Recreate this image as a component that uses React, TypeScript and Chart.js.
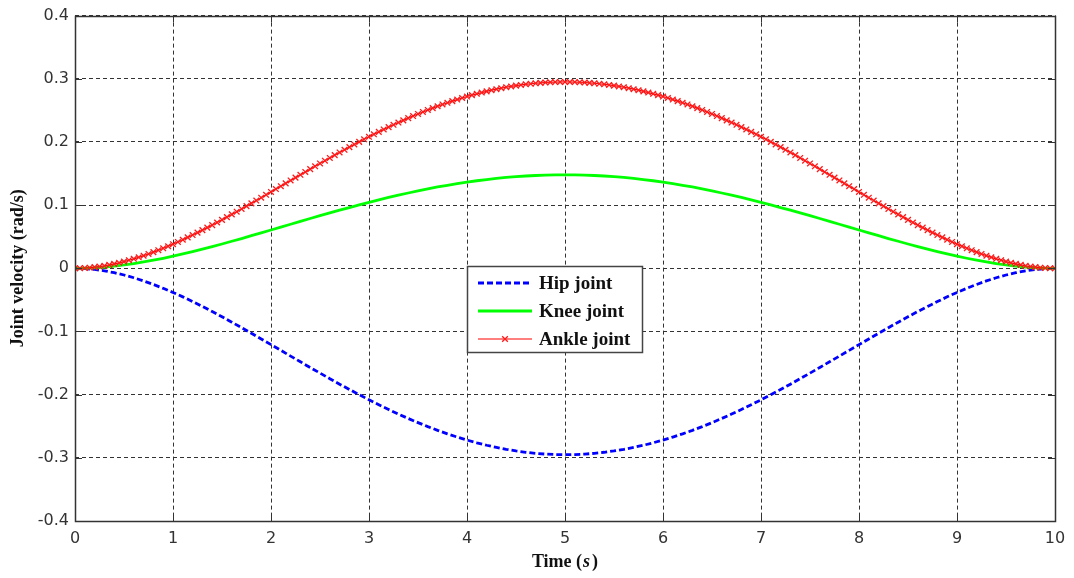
import React, { useEffect, useRef } from "react";
import { Chart, registerables } from "chart.js";

Chart.register(...registerables);

// Time grids (s)
const TIME_COARSE: number[] = Array.from({ length: 101 }, (_, i) => Math.round(i * 10) / 100);
const TIME_FINE: number[] = Array.from({ length: 201 }, (_, i) => Math.round(i * 5) / 100);

const X_TICKS = [0, 1, 2, 3, 4, 5, 6, 7, 8, 9, 10];
const Y_TICKS = [-0.4, -0.3, -0.2, -0.1, 0, 0.1, 0.2, 0.3, 0.4];

const SERIES_NAMES = ["Hip joint", "Knee joint", "Ankle joint"];

// Hip joint velocity (rad/s), sampled every 0.1 s
const HIP: number[] = [
  0, -0.0005, -0.0018, -0.004, -0.007, -0.0106, -0.015, -0.02, -0.0256, -0.0317,
  -0.0382, -0.0452, -0.0526, -0.0604, -0.0684, -0.0767, -0.0853, -0.094, -0.1028, -0.1118,
  -0.1208, -0.1299, -0.139, -0.148, -0.157, -0.1659, -0.1747, -0.1834, -0.1918, -0.2001,
  -0.2082, -0.216, -0.2235, -0.2307, -0.2377, -0.2443, -0.2506, -0.2565, -0.262, -0.2671,
  -0.2719, -0.2762, -0.2801, -0.2835, -0.2866, -0.2891, -0.2912, -0.2929, -0.2941, -0.2948,
  -0.295,
  -0.2948, -0.2941, -0.2929, -0.2912, -0.2891, -0.2866, -0.2835, -0.2801, -0.2762, -0.2719,
  -0.2671, -0.262, -0.2565, -0.2506, -0.2443, -0.2377, -0.2307, -0.2235, -0.216, -0.2082,
  -0.2001, -0.1918, -0.1834, -0.1747, -0.1659, -0.157, -0.148, -0.139, -0.1299, -0.1208,
  -0.1118, -0.1028, -0.094, -0.0853, -0.0767, -0.0684, -0.0604, -0.0526, -0.0452, -0.0382,
  -0.0317, -0.0256, -0.02, -0.015, -0.0106, -0.007, -0.004, -0.0018, -0.0005, 0,
];

// Knee joint velocity (rad/s), sampled every 0.1 s
const KNEE: number[] = [
  0, 0.0002, 0.0009, 0.002, 0.0035, 0.0053, 0.0075, 0.01, 0.0128, 0.0159,
  0.0192, 0.0227, 0.0264, 0.0303, 0.0343, 0.0385, 0.0428, 0.0471, 0.0516, 0.0561,
  0.0606, 0.0652, 0.0697, 0.0743, 0.0788, 0.0833, 0.0877, 0.092, 0.0962, 0.1004,
  0.1044, 0.1083, 0.1121, 0.1158, 0.1192, 0.1226, 0.1257, 0.1287, 0.1314, 0.134,
  0.1364, 0.1386, 0.1405, 0.1423, 0.1438, 0.1451, 0.1461, 0.1469, 0.1475, 0.1479,
  0.148,
  0.1479, 0.1475, 0.1469, 0.1461, 0.1451, 0.1438, 0.1423, 0.1405, 0.1386, 0.1364,
  0.134, 0.1314, 0.1287, 0.1257, 0.1226, 0.1192, 0.1158, 0.1121, 0.1083, 0.1044,
  0.1004, 0.0962, 0.092, 0.0877, 0.0833, 0.0788, 0.0743, 0.0697, 0.0652, 0.0606,
  0.0561, 0.0516, 0.0471, 0.0428, 0.0385, 0.0343, 0.0303, 0.0264, 0.0227, 0.0192,
  0.0159, 0.0128, 0.01, 0.0075, 0.0053, 0.0035, 0.002, 0.0009, 0.0002, 0,
];

// Ankle joint velocity (rad/s), sampled every 0.05 s
const ANKLE: number[] = [
  0, 0.0001, 0.0005, 0.001, 0.0018, 0.0028, 0.004, 0.0054, 0.007, 0.0087,
  0.0106, 0.0128, 0.015, 0.0174, 0.02, 0.0227, 0.0256, 0.0286, 0.0317, 0.0349,
  0.0382, 0.0417, 0.0452, 0.0489, 0.0526, 0.0565, 0.0604, 0.0644, 0.0684, 0.0725,
  0.0767, 0.081, 0.0853, 0.0896, 0.094, 0.0984, 0.1028, 0.1073, 0.1118, 0.1163,
  0.1208, 0.1254, 0.1299, 0.1344, 0.139, 0.1435, 0.148, 0.1525, 0.157, 0.1615,
  0.1659, 0.1703, 0.1747, 0.1791, 0.1834, 0.1876, 0.1918, 0.196, 0.2001, 0.2042,
  0.2082, 0.2121, 0.216, 0.2198, 0.2235, 0.2272, 0.2307, 0.2342, 0.2377, 0.241,
  0.2443, 0.2475, 0.2506, 0.2536, 0.2565, 0.2593, 0.262, 0.2646, 0.2671, 0.2696,
  0.2719, 0.2741, 0.2762, 0.2782, 0.2801, 0.2819, 0.2835, 0.2851, 0.2866, 0.2879,
  0.2891, 0.2902, 0.2912, 0.2921, 0.2929, 0.2935, 0.2941, 0.2945, 0.2948, 0.2949,
  0.295,
  0.2949, 0.2948, 0.2945, 0.2941, 0.2935, 0.2929, 0.2921, 0.2912, 0.2902, 0.2891,
  0.2879, 0.2866, 0.2851, 0.2835, 0.2819, 0.2801, 0.2782, 0.2762, 0.2741, 0.2719,
  0.2696, 0.2671, 0.2646, 0.262, 0.2593, 0.2565, 0.2536, 0.2506, 0.2475, 0.2443,
  0.241, 0.2377, 0.2342, 0.2307, 0.2272, 0.2235, 0.2198, 0.216, 0.2121, 0.2082,
  0.2042, 0.2001, 0.196, 0.1918, 0.1876, 0.1834, 0.1791, 0.1747, 0.1703, 0.1659,
  0.1615, 0.157, 0.1525, 0.148, 0.1435, 0.139, 0.1344, 0.1299, 0.1254, 0.1208,
  0.1163, 0.1118, 0.1073, 0.1028, 0.0984, 0.094, 0.0896, 0.0853, 0.081, 0.0767,
  0.0725, 0.0684, 0.0644, 0.0604, 0.0565, 0.0526, 0.0489, 0.0452, 0.0417, 0.0382,
  0.0349, 0.0317, 0.0286, 0.0256, 0.0227, 0.02, 0.0174, 0.015, 0.0128, 0.0106,
  0.0087, 0.007, 0.0054, 0.004, 0.0028, 0.0018, 0.001, 0.0005, 0.0001, 0,
];

const X_TITLE = ["Time (", "s", ")"];
const Y_TITLE = "Joint velocity (rad/s)";

const TITLE_FONT = '"Liberation Serif", "Times New Roman", serif';
const TICK_FONT = '"DejaVu Sans", sans-serif';

const framePlugin = {
  id: "matlabFrame",
  afterDatasetsDraw(chart: any) {
    const { ctx, chartArea: a, scales } = chart;
    ctx.save();
    ctx.setLineDash([]);
    ctx.strokeStyle = "#333";
    ctx.lineWidth = 1;
    ctx.beginPath();
    scales.x.ticks.forEach((t: any) => {
      const px = Math.round(scales.x.getPixelForValue(t.value)) + 0.5;
      ctx.moveTo(px, a.bottom);
      ctx.lineTo(px, a.bottom - 7);
      ctx.moveTo(px, a.top);
      ctx.lineTo(px, a.top + 7);
    });
    scales.y.ticks.forEach((t: any) => {
      const py = Math.round(scales.y.getPixelForValue(t.value)) + 0.5;
      ctx.moveTo(a.left, py);
      ctx.lineTo(a.left + 7, py);
      ctx.moveTo(a.right, py);
      ctx.lineTo(a.right - 7, py);
    });
    ctx.stroke();
    ctx.lineWidth = 1.5;
    ctx.strokeRect(Math.round(a.left) + 0.5, Math.round(a.top) + 0.5, Math.round(a.right - a.left), Math.round(a.bottom - a.top));
    ctx.restore();
  },
  afterDraw(chart: any) {
    const { ctx, chartArea: a } = chart;
    ctx.save();
    // Axis titles
    ctx.fillStyle = "#111";
    ctx.textBaseline = "middle";
    const boldF = `bold 18px ${TITLE_FONT}`;
    const italF = `italic bold 18px ${TITLE_FONT}`;
    ctx.font = boldF;
    const w0 = ctx.measureText(X_TITLE[0]).width + 1;
    const w2 = ctx.measureText(X_TITLE[2]).width;
    ctx.font = italF;
    const w1 = ctx.measureText(X_TITLE[1]).width + 2;
    const total = w0 + w1 + w2;
    let xx = (a.left + a.right) / 2 - total / 2;
    const ty = 562;
    ctx.textAlign = "left";
    ctx.font = boldF;
    ctx.fillText(X_TITLE[0], xx, ty);
    xx += w0;
    ctx.font = italF;
    ctx.fillText(X_TITLE[1], xx, ty);
    xx += w1;
    ctx.font = boldF;
    ctx.fillText(X_TITLE[2], xx, ty);

    ctx.save();
    ctx.translate(18, (a.top + a.bottom) / 2);
    ctx.rotate(-Math.PI / 2);
    ctx.textAlign = "center";
    ctx.font = boldF;
    ctx.fillText(Y_TITLE, 0, 0);
    ctx.restore();

    // Legend box
    const bx = 467.5, by = 266.5, bw = 175, bh = 86;
    ctx.fillStyle = "#fff";
    ctx.fillRect(bx, by, bw, bh);
    ctx.strokeStyle = "#444";
    ctx.lineWidth = 1.5;
    ctx.setLineDash([]);
    ctx.strokeRect(bx, by, bw, bh);
    const rows = [283, 311, 339];
    const lx0 = 478, lx1 = 532;
    chart.data.datasets.forEach((ds: any, i: number) => {
      const y = rows[i];
      ctx.save();
      ctx.strokeStyle = ds.borderColor;
      ctx.lineWidth = ds.borderWidth;
      ctx.setLineDash(ds.borderDash || []);
      ctx.beginPath();
      ctx.moveTo(lx0, y);
      ctx.lineTo(lx1, y);
      ctx.stroke();
      ctx.restore();
      if (ds.pointRadius > 0) {
        const cx = (lx0 + lx1) / 2;
        const r = ds.pointRadius * Math.cos(Math.PI / 4);
        ctx.save();
        ctx.strokeStyle = ds.pointBorderColor;
        ctx.lineWidth = ds.pointBorderWidth;
        ctx.beginPath();
        ctx.moveTo(cx - r, y - r);
        ctx.lineTo(cx + r, y + r);
        ctx.moveTo(cx - r, y + r);
        ctx.lineTo(cx + r, y - r);
        ctx.stroke();
        ctx.restore();
      }
      ctx.fillStyle = "#111";
      ctx.font = `bold 19px ${TITLE_FONT}`;
      ctx.textAlign = "left";
      ctx.textBaseline = "middle";
      ctx.fillText(ds.label, 539, y + 1);
    });
    ctx.restore();
  },
};

export default function App() {
  const canvasRef = useRef<HTMLCanvasElement | null>(null);

  useEffect(() => {
    document.body.style.margin = "0";
    const canvas = canvasRef.current;
    if (!canvas) return;
    const toXY = (xs: number[], ys: number[]) => xs.map((x, i) => ({ x, y: ys[i] }));
    const chart = new Chart(canvas, {
      type: "line",
      data: {
        datasets: [
          {
            label: SERIES_NAMES[0],
            data: toXY(TIME_COARSE, HIP),
            borderColor: "#0000ff",
            borderWidth: 2.8,
            borderDash: [6, 3],
            pointRadius: 0,
            tension: 0,
            order: 3,
          },
          {
            label: SERIES_NAMES[1],
            data: toXY(TIME_COARSE, KNEE),
            borderColor: "#00ff00",
            borderWidth: 2.8,
            pointRadius: 0,
            tension: 0,
            order: 2,
          },
          {
            label: SERIES_NAMES[2],
            data: toXY(TIME_FINE, ANKLE),
            borderColor: "#ff0000",
            borderWidth: 1.2,
            pointStyle: "crossRot",
            pointRadius: 4,
            pointBorderWidth: 1.3,
            pointBorderColor: "#ff1a1a",
            pointBackgroundColor: "#ff0000",
            tension: 0,
            order: 1,
          },
        ],
      },
      options: {
        animation: false,
        responsive: true,
        maintainAspectRatio: false,
        layout: { padding: { top: 15, right: 19, left: 0, bottom: 0 } },
        plugins: { legend: { display: false }, tooltip: { enabled: false } },
        scales: {
          x: {
            type: "linear",
            min: 0,
            max: 10,
            afterFit: (s: any) => {
              s.height = 57;
            },
            afterBuildTicks: (s: any) => {
              s.ticks = X_TICKS.map((v) => ({ value: v }));
            },
            ticks: {
              color: "#333",
              font: { family: TICK_FONT, size: 16 },
              padding: 8,
              maxRotation: 0,
              callback: (v: any) => String(v),
            },
            grid: { color: "#333", lineWidth: 1, drawTicks: false },
            border: { display: false, dash: [4, 3] },
          },
          y: {
            type: "linear",
            min: -0.4,
            max: 0.4,
            afterFit: (s: any) => {
              s.width = 75;
            },
            afterBuildTicks: (s: any) => {
              s.ticks = Y_TICKS.map((v) => ({ value: v }));
            },
            ticks: {
              color: "#333",
              font: { family: TICK_FONT, size: 16 },
              padding: 6,
              callback: (v: any) => {
                const r = Math.round(Number(v) * 10) / 10;
                return r === 0 ? "0" : String(r);
              },
            },
            grid: { color: "#333", lineWidth: 1, drawTicks: false },
            border: { display: false, dash: [4, 3] },
          },
        },
      },
      plugins: [framePlugin],
    });
    return () => chart.destroy();
  }, []);

  return (
    <div style={{ position: "fixed", left: 0, top: 0, width: 1074, height: 578, background: "#fff" }}>
      <canvas ref={canvasRef} />
    </div>
  );
}
